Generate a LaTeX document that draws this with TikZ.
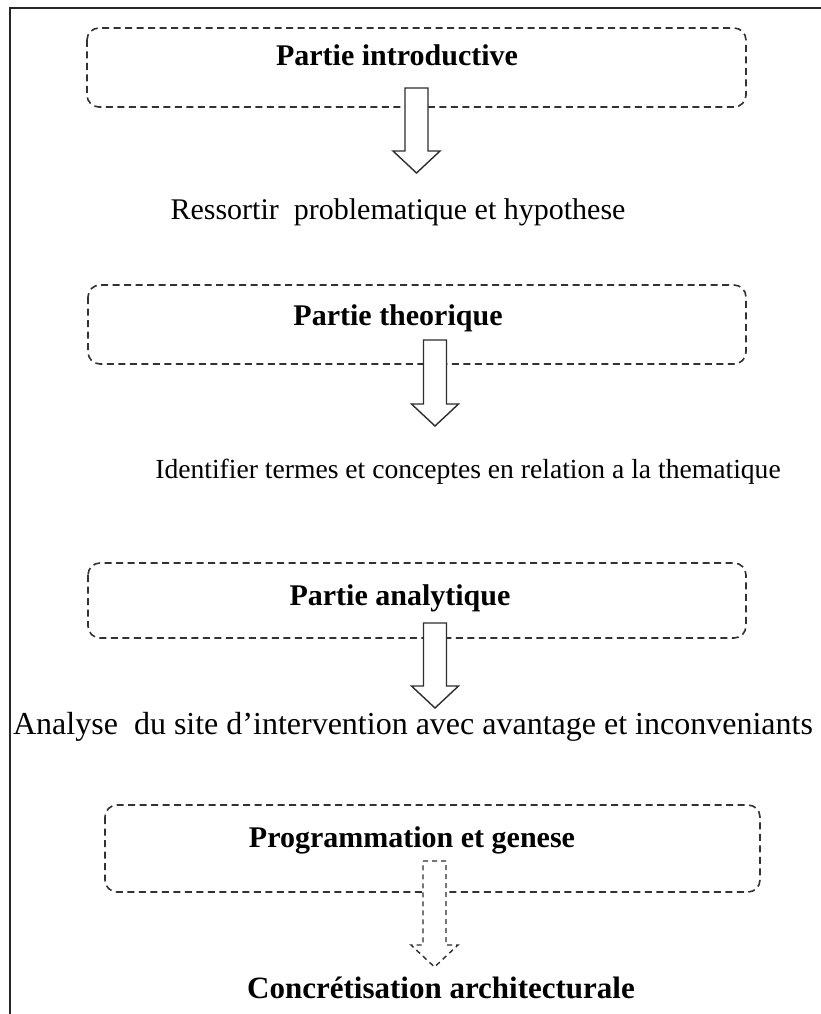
\documentclass[tikz,border=0pt]{standalone}
\usepackage{fontspec}
\setmainfont{Liberation Serif}
\usetikzlibrary{calc}
\definecolor{boxline}{RGB}{50,50,50}
\definecolor{arrline}{RGB}{45,45,45}
\tikzset{
  phasebox/.style={draw=boxline, line width=1.6pt, dash pattern=on 7pt off 4.5pt, rounded corners=12pt},
  phaselabel/.style={font=\bfseries\fontsize{30}{34}\selectfont, anchor=base, inner sep=0pt},
  resulttext/.style={anchor=base, inner sep=0pt},
  blockarr/.style={draw=arrline, fill=white, line width=1.4pt, line join=miter},
  blockarrdash/.style={blockarr, dash pattern=on 5pt off 4pt},
}
% #1 style, #2 start coordinate, #3 tip coordinate
\newcommand\blkarrow[3]{%
  \draw[#1] ($(#2)+(-11.5,0)$) -- ($(#2)+(11.5,0)$) -- ($(#3)+(11.5,-22)$) -- ($(#3)+(23.5,-22)$)
     -- (#3) -- ($(#3)+(-23.5,-22)$) -- ($(#3)+(-11.5,-22)$) -- cycle;}
\begin{document}
\begin{tikzpicture}[x=1pt,y=-1pt]
\useasboundingbox (0,0) rectangle (821,1014);
% outer frame (top and left edges visible)
\draw[line width=2pt, black!85] (10,1014) -- (10,8) -- (821,8);

% boxes
\draw[phasebox] (87,28) rectangle (746,107);
\draw[phasebox] (88,285) rectangle (746,364);
\draw[phasebox] (88,563) rectangle (746,638);
\draw[phasebox] (105,805) rectangle (760,892);

% box labels
\node[phaselabel] (p1) at (397,66) {Partie introductive};
\node[phaselabel] (p2) at (398,325) {Partie theorique};
\node[phaselabel] (p3) at (400,605) {Partie analytique};
\node[phaselabel] (p4) at (412,847) {Programmation et genese};

% result texts
\node[resulttext, font=\fontsize{30}{34}\selectfont] (r1) at (398,219) {Ressortir\ \ problematique et hypothese};
\node[resulttext, font=\fontsize{27.6}{32}\selectfont] (r2) at (468,478) {Identifier termes et conceptes en relation a la thematique};
\node[resulttext, font=\fontsize{32}{36}\selectfont] (r3) at (413,734) {Analyse\ \ du site d’intervention avec avantage et inconveniants};
\node[resulttext, font=\bfseries\fontsize{31}{36}\selectfont] (r4) at (441,998) {Concrétisation architecturale};

% arrows
\coordinate (a1s) at (416.5,88);  \coordinate (a1e) at (416.5,173);
\coordinate (a2s) at (435,340);   \coordinate (a2e) at (435,426);
\coordinate (a3s) at (435,623);   \coordinate (a3e) at (435,708);
\coordinate (a4s) at (434.5,861); \coordinate (a4e) at (434.5,967);
\blkarrow{blockarr}{a1s}{a1e}
\blkarrow{blockarr}{a2s}{a2e}
\blkarrow{blockarr}{a3s}{a3e}
\blkarrow{blockarrdash}{a4s}{a4e}
\end{tikzpicture}
\end{document}
